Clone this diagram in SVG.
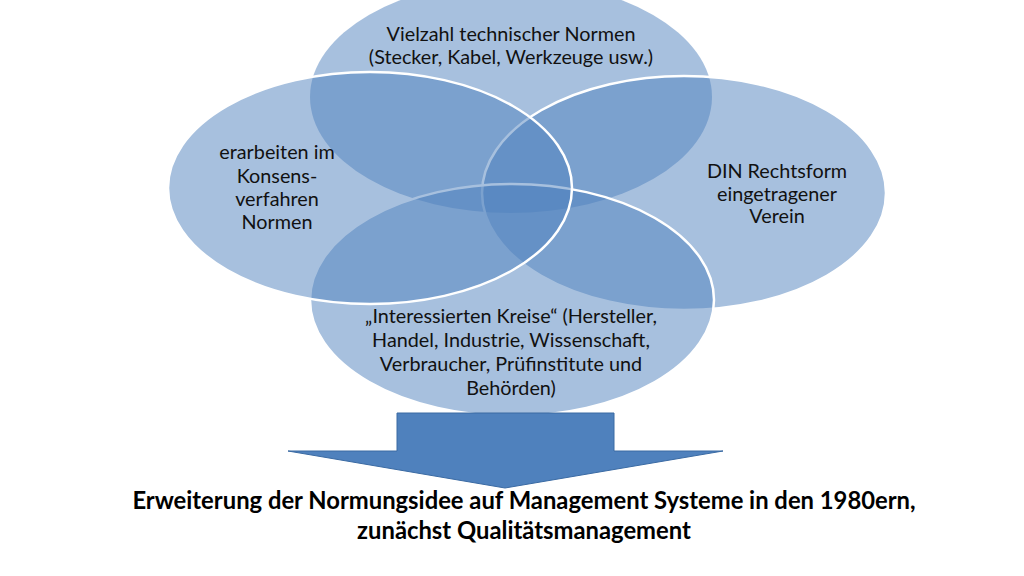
<svg xmlns="http://www.w3.org/2000/svg" width="1024" height="576" viewBox="0 0 1024 576">
<style>
.c{fill:#4f81bd;fill-opacity:0.5;stroke:#ffffff;stroke-width:2.5}
.t{font-family:Lato,"Liberation Sans",sans-serif;font-size:19.8px;fill:#111;text-anchor:middle}
.b{font-family:Lato,"Liberation Sans",sans-serif;font-size:23.8px;font-weight:bold;fill:#000;text-anchor:middle}
</style>
<rect width="1024" height="576" fill="#fff"/>
<g id="node-top"><ellipse class="c" cx="511" cy="97" rx="201" ry="116" style="stroke:none"/></g>
<g id="node-right"><ellipse class="c" cx="684" cy="193" rx="202" ry="117"/></g>
<g id="node-bottom"><ellipse class="c" cx="512" cy="300" rx="202" ry="116"/></g>
<g id="node-left"><ellipse class="c" cx="370" cy="188" rx="202" ry="116"/></g>
<g id="labels">
<text class="t" x="511" y="41">Vielzahl technischer Normen</text>
<text class="t" x="511" y="64">(Stecker, Kabel, Werkzeuge usw.)</text>
<text class="t" x="277" y="159">erarbeiten im</text>
<text class="t" x="277" y="183">Konsens-</text>
<text class="t" x="277" y="206">verfahren</text>
<text class="t" x="277" y="229">Normen</text>
<text class="t" x="777" y="178">DIN Rechtsform</text>
<text class="t" x="777" y="201">eingetragener</text>
<text class="t" x="777" y="223">Verein</text>
<text class="t" x="511" y="323">„Interessierten Kreise“ (Hersteller,</text>
<text class="t" x="511" y="347">Handel, Industrie, Wissenschaft,</text>
<text class="t" x="511" y="371">Verbraucher, Prüfinstitute und</text>
<text class="t" x="511" y="395">Behörden)</text>
</g>
<g id="connectors">
<path d="M397,413 L614,413 L614,451 L723,451 L505,488 L288,451 L397,451 Z" fill="#4f81bd" stroke="#3a6aa3" stroke-width="1"/>
</g>
<g id="caption">
<text class="b" x="524" y="509">Erweiterung der Normungsidee auf Management Systeme in den 1980ern,</text>
<text class="b" x="524" y="539">zunächst Qualitätsmanagement</text>
</g>
</svg>
